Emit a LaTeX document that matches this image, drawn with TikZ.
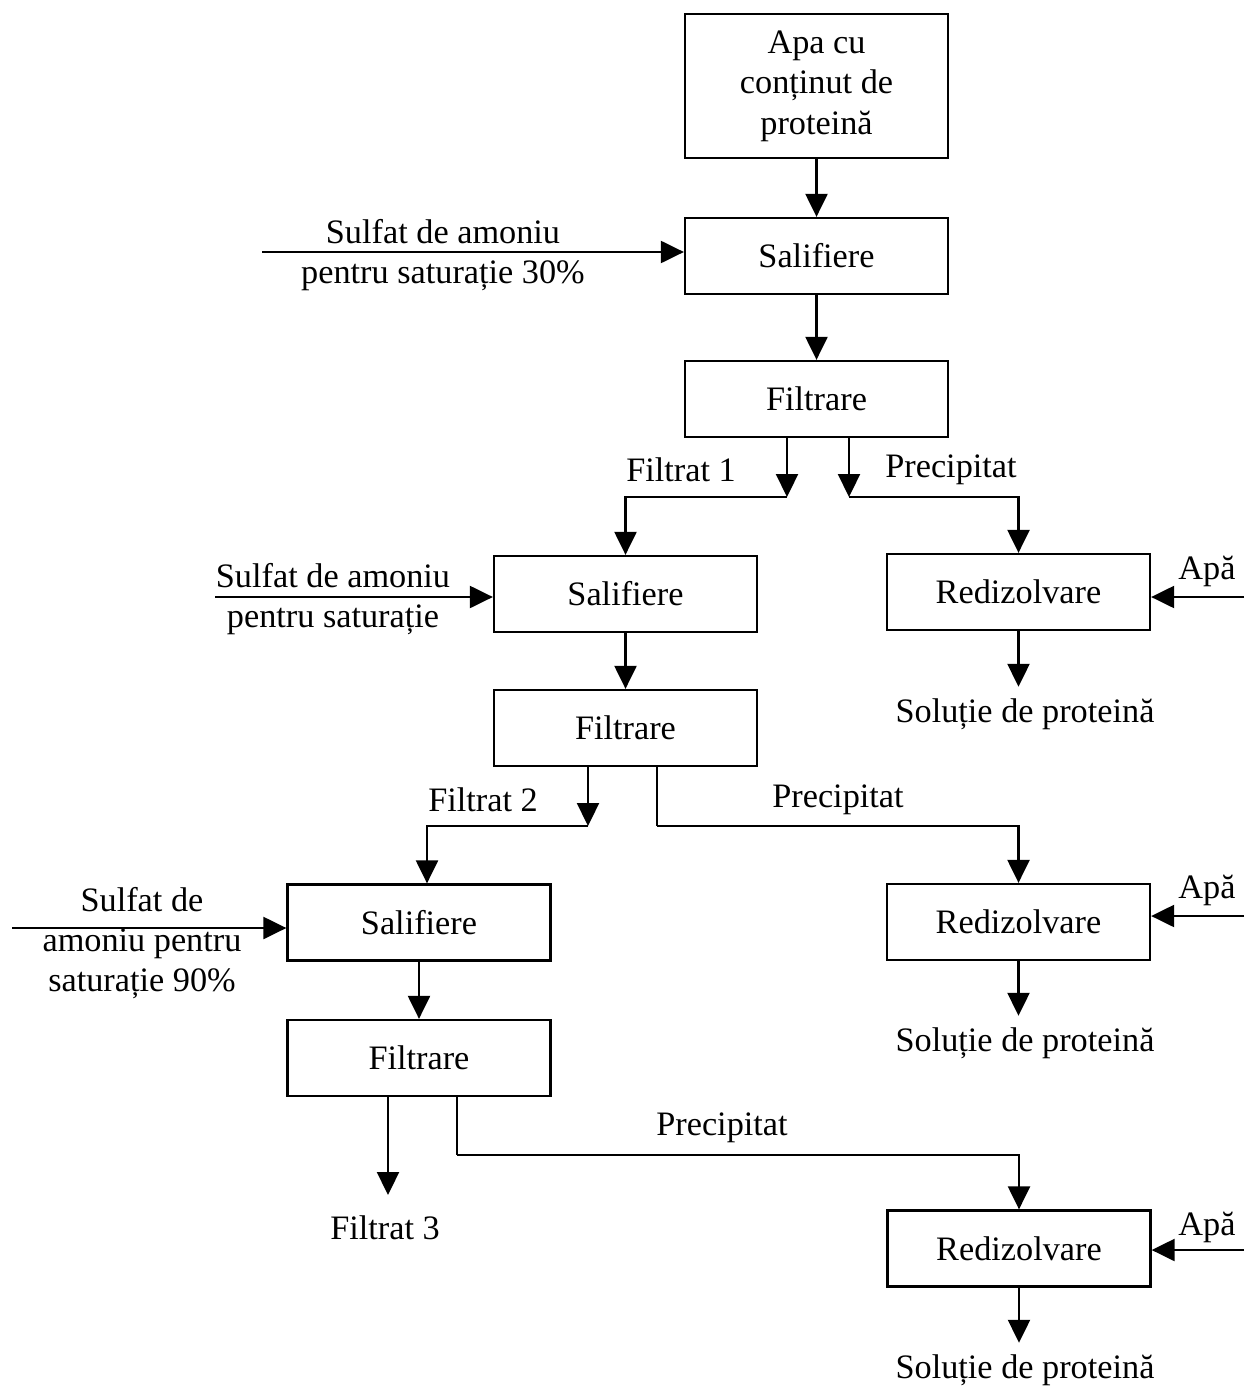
\documentclass[tikz,border=0pt]{standalone}
\usepackage{fontspec}
\setmainfont{Liberation Serif}
\usetikzlibrary{arrows.meta}

\begin{document}
\begin{tikzpicture}[box/.style = {draw, rectangle, minimum width=5.26cm, minimum height=1.52cm, align=center},
        flow/.style = {-{Triangle[length=0.46cm, width=0.44cm]}},
        lbl/.style = {align=center, inner sep=0pt},
        line width=1.3pt, font=\fontsize{19.5pt}{23pt}\selectfont]
                \useasboundingbox (0, 0) rectangle (24.92, -27.86);

                % main chain
                \node[box, minimum height=2.88cm] at (16.33, -1.72) (apa) {Apa cu\\conținut de\\proteină};
                \node[box] at (16.33, -5.12) (sal1) {Salifiere};
                \node[box] at (16.33, -7.98) (fil1) {Filtrare};
                \node[box] at (12.51, -11.88) (sal2) {Salifiere};
                \node[box] at (12.51, -14.56) (fil2) {Filtrare};
                \node[box] at (8.38, -18.45) (sal3) {Salifiere};
                \node[box] at (8.38, -21.16) (fil3) {Filtrare};

                \node[box] at (20.37, -11.84) (red1) {Redizolvare};
                \node[box] at (20.37, -18.44) (red2) {Redizolvare};
                \node[box] at (20.38, -24.97) (red3) {Redizolvare};

                % labels
                \node[lbl] at (8.86, -5.10) (sulf1) {Sulfat de amoniu\\pentru saturație 30\%};
                \node[lbl] at (6.66, -11.98) (sulf2) {Sulfat de amoniu\\pentru saturație};
                \node[lbl] at (2.84, -18.86) (sulf3) {Sulfat de\\amoniu pentru\\saturație 90\%};
                \node[lbl] at (13.62, -9.40) (ft1) {Filtrat 1};
                \node[lbl] at (19.02, -9.40) (pr1) {Precipitat};
                \node[lbl] at (9.66, -16.00) (ft2) {Filtrat 2};
                \node[lbl] at (16.76, -16.00) (pr2) {Precipitat};
                \node[lbl] at (7.70, -24.56) (ft3) {Filtrat 3};
                \node[lbl] at (14.44, -22.56) (pr3) {Precipitat};
                \node[lbl] at (24.14, -11.42) (apa1) {Apă};
                \node[lbl] at (24.14, -17.80) (apa2) {Apă};
                \node[lbl] at (24.14, -24.54) (apa3) {Apă};
                \node[lbl] at (20.50, -14.28) (sol1) {Soluție de proteină};
                \node[lbl] at (20.50, -20.86) (sol2) {Soluție de proteină};
                \node[lbl] at (20.50, -27.40) (sol3) {Soluție de proteină};

                % free ends and bends
                \coordinate (in1) at (5.24, -5.04);
                \coordinate (in2) at (4.30, -11.94);
                \coordinate (in3) at (0.24, -18.56);
                \coordinate (w1) at (24.88, -11.94);
                \coordinate (w2) at (24.88, -18.32);
                \coordinate (w3) at (24.88, -25.00);
                \coordinate (f1) at (15.74, -9.94);
                \coordinate (p1) at (16.98, -9.94);
                \coordinate (f2) at (11.76, -16.52);
                \coordinate (p2) at (13.14, -16.52);
                \coordinate (f3) at (7.76, -23.90);
                \coordinate (p3) at (9.14, -23.10);

                \draw [flow] (apa) -- (sal1);
                \draw [flow] (sal1) -- (fil1);
                \draw [flow] (in1) -- (in1 -| sal1.west);

                \draw [flow] (f1 |- fil1.south) -- (f1);
                \draw [flow] (f1) -| (sal2);
                \draw [flow] (p1 |- fil1.south) -- (p1);
                \draw [flow] (p1) -| (red1);

                \draw [flow] (in2) -- (in2 -| sal2.west);
                \draw [flow] (sal2) -- (fil2);
                \draw [flow] (w1) -- (w1 -| red1.east);
                \draw [flow] (red1) -- ([yshift=6pt]red1 |- sol1.north);

                \draw [flow] (f2 |- fil2.south) -- (f2);
                \draw [flow] (f2) -| ([xshift=0.16cm]sal3.north);
                \draw (p2 |- fil2.south) -- (p2);
                \draw [flow] (p2) -| (red2);

                \draw [flow] (in3) -- (in3 -| sal3.west);
                \draw [flow] (sal3) -- (fil3);
                \draw [flow] (w2) -- (w2 -| red2.east);
                \draw [flow] (red2) -- ([yshift=6pt]red2 |- sol2.north);

                \draw [flow] (f3 |- fil3.south) -- (f3);
                \draw (p3 |- fil3.south) -- (p3);
                \draw [flow] (p3) -| (red3);

                \draw [flow] (w3) -- (w3 -| red3.east);
                \draw [flow] (red3) -- ([yshift=6pt]red3 |- sol3.north);
            \end{tikzpicture}
\end{document}
